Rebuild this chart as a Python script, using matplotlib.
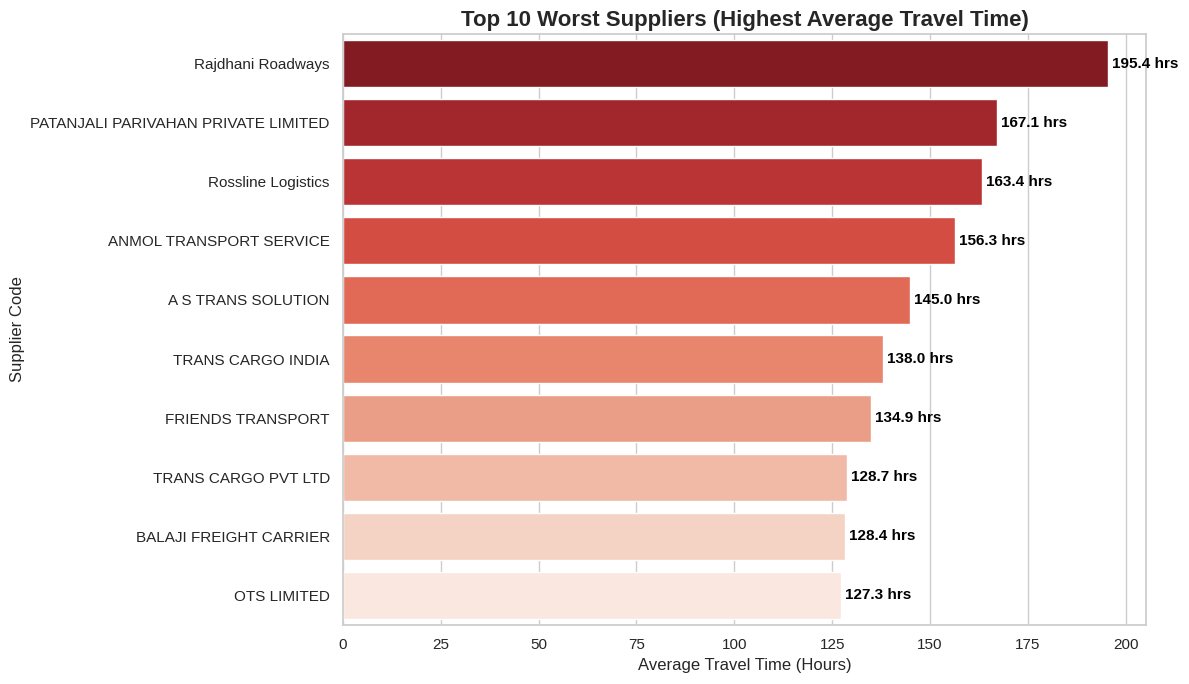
import matplotlib
matplotlib.use("Agg")
import matplotlib.pyplot as plt
import seaborn as sns
import pandas as pd

# Data
suppliers = [
    "Rajdhani Roadways",
    "PATANJALI PARIVAHAN PRIVATE LIMITED",
    "Rossline Logistics",
    "ANMOL TRANSPORT SERVICE",
    "A S TRANS SOLUTION",
    "TRANS CARGO INDIA",
    "FRIENDS TRANSPORT",
    "TRANS CARGO PVT LTD",
    "BALAJI FREIGHT CARRIER",
    "OTS LIMITED",
]
avg_hours = [195.4, 167.1, 163.4, 156.3, 145.0, 138.0, 134.9, 128.7, 128.4, 127.3]

df = pd.DataFrame({"supplier": suppliers, "hours": avg_hours})

sns.set_theme(style="whitegrid")
plt.rcParams["font.family"] = ["Liberation Sans", "DejaVu Sans"]

fig = plt.figure(figsize=(11.89, 6.84), dpi=100)
ax = fig.add_axes([343 / 1189, 1 - 625 / 684, (1146 - 343) / 1189, (625 - 34) / 684])

sns.barplot(data=df, x="hours", y="supplier", hue="supplier",
            palette="Reds_r", legend=False, ax=ax)

# value labels just right of each bar
for i, v in enumerate(avg_hours):
    ax.text(v + 1, i, f"{v:.1f} hrs", va="center", ha="left",
            fontsize=11, fontweight="bold", color="black")

ax.set_xlim(0, 205.2)
ax.set_title("Top 10 Worst Suppliers (Highest Average Travel Time)",
             fontsize=16, fontweight="bold", pad=6)
ax.set_xlabel("Average Travel Time (Hours)", fontsize=12)
ax.set_ylabel("Supplier Code", fontsize=12)
ax.tick_params(axis="both", labelsize=11)

fig.savefig("out.png", dpi=100)
